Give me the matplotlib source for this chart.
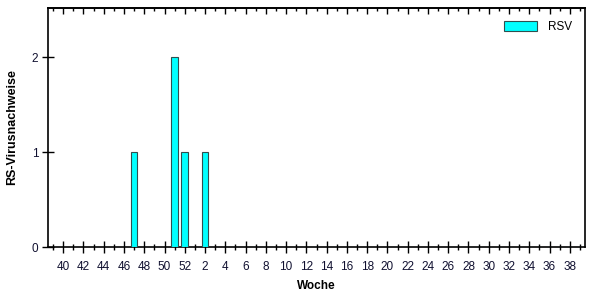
import matplotlib
matplotlib.use("Agg")
import matplotlib.pyplot as plt
from matplotlib.ticker import FixedLocator, NullFormatter

plt.rcParams["font.family"] = ["Liberation Sans", "DejaVu Sans"]

# season weeks 39..52 then 1..39
weeks = list(range(39, 53)) + list(range(1, 40))
rsv = [0] * len(weeks)
positive_weeks = [47, 51, 52, 2]
positive_counts = [1, 2, 1, 1]
for w, c in zip(positive_weeks, positive_counts):
    rsv[weeks.index(w)] = c

series_label = "RSV"
y_label = "RS-Virusnachweise"
x_label = "Woche"
y_ticks = [0, 1, 2]

fig = plt.figure(figsize=(6.02, 3.00), dpi=100)
ax = fig.add_axes([48 / 602, 1 - 247 / 300, (585 - 48) / 602, (247 - 8) / 300])

x = list(range(len(weeks)))
ax.bar(x, rsv, width=0.65, color="#00FFFF", edgecolor="#2f4f4f", linewidth=0.8,
       label=series_label, zorder=3)

ax.set_xlim(-0.5, len(weeks) - 0.5)
ax.set_ylim(0, 2.52)

major = [i for i, w in zip(x, weeks) if w % 2 == 0]
minor = [i for i, w in zip(x, weeks) if w % 2 == 1]
ax.xaxis.set_major_locator(FixedLocator(major))
ax.xaxis.set_minor_locator(FixedLocator(minor))
ax.set_xticklabels([str(weeks[i]) for i in major])
ax.set_yticks(y_ticks)

ax.tick_params(axis="x", which="major", direction="inout", length=8, width=1,
               labelsize=8.5, pad=6, colors="black", labelcolor="#101030")
ax.tick_params(axis="x", which="minor", direction="inout", length=5, width=1)
ax.tick_params(axis="y", which="major", direction="inout", length=8, width=1,
               labelsize=8.5, pad=3, labelcolor="#101030")

# top axis: short inward ticks only
top = ax.secondary_xaxis("top")
top.xaxis.set_major_locator(FixedLocator(major))
top.xaxis.set_minor_locator(FixedLocator(minor))
top.xaxis.set_major_formatter(NullFormatter())
top.tick_params(which="major", direction="in", length=4, width=1)
top.tick_params(which="minor", direction="in", length=2.5, width=1)
top.spines["top"].set_linewidth(1.2)

for s in ax.spines.values():
    s.set_linewidth(1.2)
    s.set_color("black")

ax.set_xlabel(x_label, fontsize=8.5, fontweight="bold", labelpad=5)
ax.set_ylabel(y_label, fontsize=9, fontweight="bold", labelpad=10)

leg = ax.legend(loc="upper right", frameon=False, fontsize=8.5, handlelength=2.8,
                handleheight=0.9, borderaxespad=0.7, handletextpad=0.9)

fig.savefig("out.png", dpi=100, facecolor="white")
